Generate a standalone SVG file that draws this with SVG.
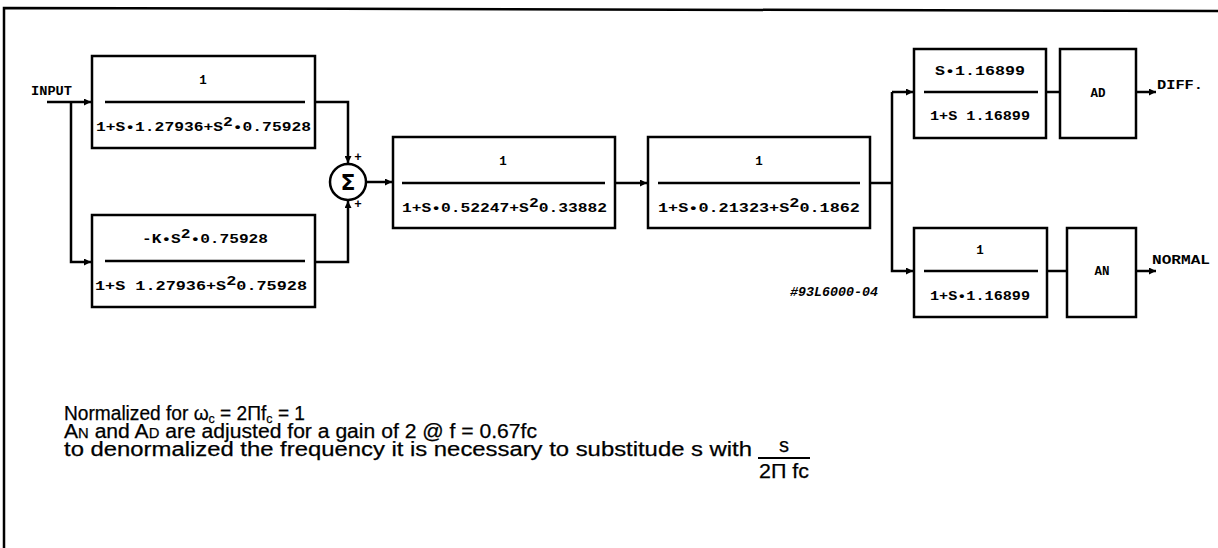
<svg xmlns="http://www.w3.org/2000/svg" width="1218" height="548" viewBox="0 0 1218 548">
<defs>
<marker id="arr" viewBox="0 0 10 10" refX="10" refY="5" markerWidth="7" markerHeight="7" markerUnits="userSpaceOnUse" orient="auto">
<path d="M0,0 L10,5 L0,10 z" fill="#000"/>
</marker>
</defs>
<style>
.box{fill:#fff;stroke:#000;stroke-width:2.5}
.fl{stroke:#000;stroke-width:2.5}
.w{fill:none;stroke:#000;stroke-width:2.5}
.m{font-family:"Liberation Mono","DejaVu Sans Mono",monospace;font-weight:bold;font-size:12.5px;fill:#000}
.t{font-family:"Liberation Sans",Arial,sans-serif;font-size:20px;fill:#000;stroke:#000;stroke-width:0.25}
</style>
<rect width="1218" height="548" fill="#fff"/>
<g id="frame"><path class="w" d="M4,548 L4,8 L1218,11"/></g>
<g id="connectors">
<path class="w" d="M47,102 L91,102" marker-end="url(#arr)"/>
<path class="w" d="M71,102 L71,262 L91,262" marker-end="url(#arr)"/>
<path class="w" d="M315,102 L348,102 L348,163" marker-end="url(#arr)"/>
<path class="w" d="M315,262 L348,262 L348,201" marker-end="url(#arr)"/>
<path class="w" d="M366,182 L392,182" marker-end="url(#arr)"/>
<path class="w" d="M615,183 L647,183" marker-end="url(#arr)"/>
<path class="w" d="M870,183 L892,183"/>
<path class="w" d="M892,92 L892,271 L913,271" marker-end="url(#arr)"/>
<path class="w" d="M892,92 L913,92" marker-end="url(#arr)"/>
<path class="w" d="M1046,92 L1060,92"/>
<path class="w" d="M1047,271 L1068,271"/>
<path class="w" d="M1136,92 L1156,92" marker-end="url(#arr)"/>
<path class="w" d="M1136,271 L1156,271" marker-end="url(#arr)"/>
</g>
<g id="input"><text class="m" x="31" y="95" textLength="41" lengthAdjust="spacingAndGlyphs">INPUT</text></g>
<g id="box1">
<rect class="box" x="92" y="56" width="223" height="92"/>
<line class="fl" x1="105" y1="102" x2="305" y2="102"/>
<text class="m" x="203" y="84" text-anchor="middle">1</text>
<text class="m" x="96" y="131" textLength="215" lengthAdjust="spacingAndGlyphs">1+S•1.27936+S<tspan dy="-5">2</tspan><tspan dy="5">•0.75928</tspan></text>
</g>
<g id="box2">
<rect class="box" x="92" y="215" width="223" height="92"/>
<line class="fl" x1="105" y1="261" x2="305" y2="261"/>
<text class="m" x="142" y="243" textLength="126" lengthAdjust="spacingAndGlyphs">-K•S<tspan dy="-5">2</tspan><tspan dy="5">•0.75928</tspan></text>
<text class="m" x="95" y="290" textLength="212" lengthAdjust="spacingAndGlyphs">1+S 1.27936+S<tspan dy="-5">2</tspan><tspan dy="5">0.75928</tspan></text>
</g>
<g id="sum">
<circle cx="348" cy="182" r="18" fill="#fff" stroke="#000" stroke-width="2.5"/>
<text x="348" y="190" text-anchor="middle" font-family="DejaVu Sans,sans-serif" font-weight="bold" font-size="22" fill="#000">Σ</text>
<text class="m" x="358" y="161" text-anchor="middle" font-size="8">+</text>
<text class="m" x="358" y="208" text-anchor="middle" font-size="8">+</text>
</g>
<g id="box3">
<rect class="box" x="393" y="137" width="222" height="91"/>
<line class="fl" x1="402" y1="183" x2="605" y2="183"/>
<text class="m" x="503" y="165" text-anchor="middle">1</text>
<text class="m" x="402" y="212" textLength="205" lengthAdjust="spacingAndGlyphs">1+S•0.52247+S<tspan dy="-5">2</tspan><tspan dy="5">0.33882</tspan></text>
</g>
<g id="box4">
<rect class="box" x="648" y="137" width="222" height="91"/>
<line class="fl" x1="658" y1="183" x2="860" y2="183"/>
<text class="m" x="759" y="165" text-anchor="middle">1</text>
<text class="m" x="658" y="212" textLength="202" lengthAdjust="spacingAndGlyphs">1+S•0.21323+S<tspan dy="-5">2</tspan><tspan dy="5">0.1862</tspan></text>
</g>
<g id="box5">
<rect class="box" x="914" y="49" width="132" height="89"/>
<line class="fl" x1="924" y1="92" x2="1038" y2="92"/>
<text class="m" x="980" y="75" text-anchor="middle" textLength="90" lengthAdjust="spacingAndGlyphs">S•1.16899</text>
<text class="m" x="980" y="120" text-anchor="middle" textLength="100" lengthAdjust="spacingAndGlyphs">1+S 1.16899</text>
</g>
<g id="ad">
<rect class="box" x="1060" y="49" width="76" height="89"/>
<text class="m" x="1098" y="97" text-anchor="middle">AD</text>
</g>
<g id="box6">
<rect class="box" x="914" y="228" width="133" height="89"/>
<line class="fl" x1="924" y1="271" x2="1038" y2="271"/>
<text class="m" x="980" y="254" text-anchor="middle">1</text>
<text class="m" x="980" y="300" text-anchor="middle" textLength="100" lengthAdjust="spacingAndGlyphs">1+S•1.16899</text>
</g>
<g id="an">
<rect class="box" x="1067" y="228" width="69" height="89"/>
<text class="m" x="1102" y="275" text-anchor="middle">AN</text>
</g>
<g id="outputs">
<text class="m" x="1157" y="89" textLength="46" lengthAdjust="spacingAndGlyphs">DIFF.</text>
<text class="m" x="1152" y="264" textLength="58" lengthAdjust="spacingAndGlyphs">NORMAL</text>
</g>
<g id="ref"><text class="m" x="790" y="296" font-style="italic" font-size="9" textLength="88" lengthAdjust="spacingAndGlyphs">#93L6000-04</text></g>
<g id="notes">
<text class="t" x="64" y="420" textLength="241" lengthAdjust="spacingAndGlyphs">Normalized for ω<tspan font-size="13" dy="3">c</tspan><tspan dy="-3"> = 2Πf</tspan><tspan font-size="13" dy="3">c</tspan><tspan dy="-3"> = 1</tspan></text>
<text class="t" x="64" y="438" textLength="473" lengthAdjust="spacingAndGlyphs">A<tspan font-size="14">N</tspan> and A<tspan font-size="14">D</tspan> are adjusted for a gain of 2 @ f = 0.67fc</text>
<text class="t" x="64" y="456" textLength="688" lengthAdjust="spacingAndGlyphs">to denormalized the frequency it is necessary to substitude s with</text>
<text class="t" x="784" y="452" text-anchor="middle">s</text>
<line x1="758" y1="458" x2="810" y2="458" stroke="#000" stroke-width="2"/>
<text class="t" x="784" y="478" text-anchor="middle" textLength="50" lengthAdjust="spacingAndGlyphs">2Π fc</text>
</g>
</svg>
